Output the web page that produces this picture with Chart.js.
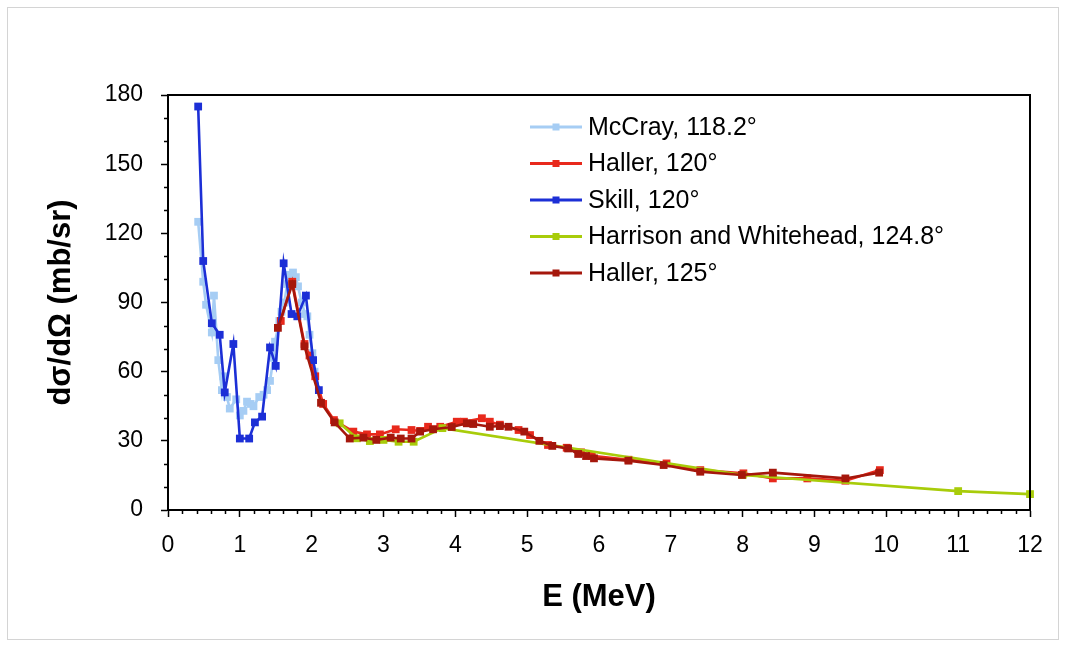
<!DOCTYPE html>
<html>
<head>
<meta charset="utf-8">
<script src="https://cdn.jsdelivr.net/npm/chart.js@4.4.1/dist/chart.umd.min.js"></script>
<style>
  html, body { margin: 0; padding: 0; background: #fff; }
  #wrap { width: 1067px; height: 648px; position: relative; }
</style>
</head>
<body>
<div id="wrap"><canvas id="c" width="1067" height="648"></canvas></div>
<script>
// ---- Data ----
const seriesNames = ["McCray, 118.2°", "Haller, 120°", "Skill, 120°", "Harrison and Whitehead, 124.8°", "Haller, 125°"];

const mccrayE = [0.42,0.49,0.53,0.61,0.64,0.70,0.75,0.77,0.82,0.86,0.95,1.00,1.05,1.10,1.15,1.19,1.27,1.33,1.38,1.42,1.47,1.49,1.55,1.58,1.62,1.66,1.69,1.74,1.78,1.81,1.86,1.91,1.94,1.97,2.01,2.04];
const mccrayY = [125,99,89,77,93,65,52,58,49,44,48,41,43,47,46,45,49,50,52,56,66,73,82,86,90,98,102,103,101,97,90,85,84,76,68,60];

const haller120E = [1.57,1.73,1.90,1.97,2.05,2.16,2.31,2.58,2.77,2.95,3.17,3.39,3.51,3.62,3.79,4.02,4.12,4.37,4.48,4.62,4.88,5.04,5.29,5.55,5.75,5.90,6.41,6.94,7.41,8.01,8.42,8.90,9.43,9.91];
const haller120Y = [82,99,72,67,58,46,39,34,32.8,32.8,35,34.7,34.3,36.1,36.1,38.3,38.3,39.8,38.3,37,34.7,32.5,28.2,27,25,23.5,21.8,20.2,17.3,15.9,13.7,13.7,12.7,17.3];

const skillE = [0.42,0.49,0.61,0.72,0.79,0.91,1.00,1.13,1.21,1.31,1.42,1.50,1.61,1.72,1.80,1.92,2.02,2.10];
const skillY = [175,108,81,76,51,72,31,31,38,40.5,70.5,62.5,107,85,84,93,65,52];

const harrisonE = [2.39,2.63,2.81,3.00,3.21,3.42,3.82,8.00,11.00,12.00];
const harrisonY = [37.6,31.1,29.9,30.4,29.6,29.6,35.5,15.2,8.2,6.9];

const haller125E = [1.53,1.73,1.90,2.13,2.32,2.53,2.72,2.90,3.10,3.24,3.39,3.51,3.69,3.95,4.16,4.25,4.48,4.62,4.74,4.96,5.17,5.35,5.57,5.71,5.82,5.93,6.41,6.90,7.41,7.99,8.42,9.43,9.90];
const haller125Y = [79,98,71,46.5,38,31,31.4,30.4,31.4,31,31,34,35,36,37.6,37.3,36.1,36.4,36.1,34,30,27.8,26.7,24.3,23.4,22.4,21.4,19.5,16.6,15.2,16.2,13.7,16.2];

const xTicks = [0,1,2,3,4,5,6,7,8,9,10,11,12];
const yTicks = [0,30,60,90,120,150,180];

// ---- Styles ----
const colors = ["#a6cdf4", "#e8291c", "#1c2fd6", "#a8cc0a", "#a5170c"];
const FONT = "'Liberation Sans', Arial, sans-serif";

function pts(xs, ys) { return xs.map((x, i) => ({ x: x, y: ys[i] })); }

const seriesData = [pts(mccrayE, mccrayY), pts(haller120E, haller120Y), pts(skillE, skillY), pts(harrisonE, harrisonY), pts(haller125E, haller125Y)];

const datasets = seriesData.map((d, i) => ({
  label: seriesNames[i],
  data: d,
  borderColor: colors[i],
  backgroundColor: colors[i],
  pointBackgroundColor: colors[i],
  pointBorderColor: colors[i],
  pointStyle: 'rect',
  pointRadius: 5.5,
  pointBorderWidth: 0,
  borderWidth: 2.6,
  tension: 0,
  clip: false,
  order: 5 - i
}));

const frame = {
  id: 'frame',
  beforeDraw(chart) {
    const ctx = chart.ctx;
    ctx.save();
    ctx.fillStyle = '#fff';
    ctx.fillRect(0, 0, chart.width, chart.height);
    ctx.strokeStyle = '#d4d4d4';
    ctx.lineWidth = 1;
    ctx.strokeRect(7.5, 7.5, 1051, 632);
    ctx.restore();
  },
  afterDraw(chart) {
    const ctx = chart.ctx;
    const a = chart.chartArea;
    const xs = chart.scales.x, ys = chart.scales.y;
    ctx.save();
    ctx.strokeStyle = '#000';
    ctx.lineWidth = 2;
    ctx.strokeRect(a.left, a.top, a.right - a.left, a.bottom - a.top);
    // minor ticks
    ctx.lineWidth = 1.5;
    ctx.beginPath();
    for (let v = 0; v <= 180; v += 10) {
      if (v % 30 === 0) continue;
      const py = Math.round(ys.getPixelForValue(v)) + 0.5;
      ctx.moveTo(a.left, py); ctx.lineTo(a.left - 4, py);
    }
    for (let k = 0; k <= 60; k++) {
      if (k % 5 === 0) continue;
      const px = Math.round(xs.getPixelForValue(k * 0.2)) + 0.5;
      ctx.moveTo(px, a.bottom); ctx.lineTo(px, a.bottom + 4);
    }
    ctx.stroke();
    ctx.restore();
  }
};

const legendPlugin = {
  id: 'insideLegend',
  afterDatasetsDraw(chart) {
    const ctx = chart.ctx;
    ctx.save();
    for (let i = 0; i < seriesNames.length; i++) {
      const y = 127 + i * 36.5;
      ctx.strokeStyle = colors[i];
      ctx.lineWidth = 3;
      ctx.beginPath();
      ctx.moveTo(530, y); ctx.lineTo(582, y);
      ctx.stroke();
      ctx.fillStyle = colors[i];
      ctx.fillRect(552.5, y - 3.5, 7, 7);
      ctx.fillStyle = '#000';
      ctx.font = '25px ' + FONT;
      ctx.textAlign = 'left';
      ctx.textBaseline = 'middle';
      ctx.fillText(seriesNames[i], 588, y + 1);
    }
    ctx.restore();
  }
};

new Chart(document.getElementById('c'), {
  type: 'line',
  data: { datasets: datasets },
  plugins: [frame, legendPlugin],
  options: {
    responsive: false,
    animation: false,
    devicePixelRatio: 1,
    layout: { padding: { top: 95, right: 37, left: 0, bottom: 0 } },
    plugins: { legend: { display: false }, tooltip: { enabled: false } },
    scales: {
      x: {
        type: 'linear',
        min: 0, max: 12,
        afterBuildTicks(scale) { scale.ticks = xTicks.map(v => ({ value: v })); },
        afterFit(scale) { scale.height = 138; },
        ticks: { color: '#000', font: { family: FONT, size: 23 }, padding: 15, maxRotation: 0, autoSkip: false },
        grid: { drawOnChartArea: false, drawTicks: true, tickLength: 7, tickColor: '#000', tickWidth: 1.5 },
        border: { display: true, color: '#000', width: 2 },
        title: { display: true, text: 'E (MeV)', color: '#000', font: { family: FONT, size: 31, weight: 'bold' }, padding: { top: 0, bottom: 32 } }
      },
      y: {
        type: 'linear',
        min: 0, max: 180,
        afterBuildTicks(scale) { scale.ticks = yTicks.map(v => ({ value: v })); },
        afterFit(scale) { scale.width = 168; },
        ticks: { color: '#000', font: { family: FONT, size: 23 }, padding: 18, autoSkip: false },
        grid: { drawOnChartArea: false, drawTicks: true, tickLength: 7, tickColor: '#000', tickWidth: 1.5 },
        border: { display: true, color: '#000', width: 2 },
        title: { display: true, text: 'dσ/dΩ (mb/sr)', color: '#000', font: { family: FONT, size: 31, weight: 'bold' }, padding: { top: 43, bottom: 0 } }
      }
    }
  }
});
</script>
</body>
</html>
